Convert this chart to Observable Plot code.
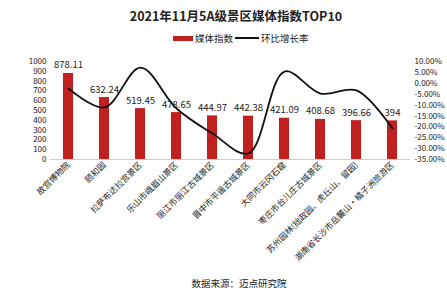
<!DOCTYPE html>
<html><head><meta charset="utf-8">
<script src="https://cdn.jsdelivr.net/npm/d3@7"></script>
<script src="https://cdn.jsdelivr.net/npm/@observablehq/plot@0.6"></script>
<style>
body{margin:0;background:#fff;font-family:"Noto Sans CJK SC","Noto Sans",sans-serif;}
#wrap{position:relative;width:447px;height:290px;}
.abs{position:absolute;white-space:nowrap;color:#222;}
</style></head><body>
<div id="wrap">
<div class="abs" style="left:0;width:472px;top:6px;text-align:center;font-size:12.5px;font-weight:bold;">2021年11月5A级景区媒体指数TOP10</div>
<div class="abs" style="left:173px;top:31px;font-size:9.5px;display:flex;align-items:center;">
<span style="display:inline-block;width:20px;height:5px;background:#c0201f;margin-right:2px;"></span><span>媒体指数</span>
<span style="display:inline-block;width:24px;height:2px;background:#111;margin:0 2px;"></span><span>环比增长率</span>
</div>
<div class="abs" style="left:0;width:478px;top:276px;text-align:center;font-size:9.5px;">数据来源：迈点研究院</div>
<div id="chart" style="position:absolute;left:0;top:0;"></div>
</div>
<script>
const categories = ["故宫博物院","颐和园","拉萨布达拉宫景区","乐山市峨眉山景区","丽江市丽江古城景区","晋中市平遥古城景区","大同市云冈石窟","枣庄市台儿庄古城景区","苏州园林(拙政园、虎丘山、留园)","湖南省长沙市岳麓山·橘子洲旅游区"];
const mediaIndex = [878.11,632.24,519.45,478.65,444.97,442.38,421.09,408.68,396.66,394];
const growthRate = [-2.4,-11.1,7.2,-11.6,-23.1,-32.2,5.4,-4.7,-3.3,-20.8];
const leftTicks = [0,100,200,300,400,500,600,700,800,900,1000];
const rightTicks = [10,5,0,-5,-10,-15,-20,-25,-30,-35];

const rMin = -35, rMax = 10;
const toLeft = r => (r - rMin) / (rMax - rMin) * 1000;
const data = categories.map((c,i)=>({c, v: mediaIndex[i], r: toLeft(growthRate[i])}));

const chart = Plot.plot({
  width: 447, height: 290,
  marginLeft: 50, marginRight: 37, marginTop: 61, marginBottom: 131,
  style: {fontFamily: '"Noto Sans CJK SC","Noto Sans",sans-serif', fontSize: "8px", color: "#222", background: "transparent"},
  x: {domain: categories, paddingInner: 0.72, paddingOuter: 0.36, label: null},
  y: {domain: [0,1000], label: null},
  marks: [
    Plot.axisY({ticks: leftTicks, tickSize: 0, tickPadding: 4, label: null, fontSize: 8, tickFormat: d => String(d)}),
    Plot.axisY({anchor: "right", ticks: rightTicks.map(toLeft), tickSize: 0, tickPadding: 4, label: null, textAnchor: "start",
      tickFormat: v => (Math.round(v/1000*45 + rMin)).toFixed(2) + "%", fontSize: 8}),
    Plot.axisX({tickRotate: -45, tickSize: 0, tickPadding: 4, label: null, fontSize: 8.5}),
    Plot.barY(data, {x: "c", y: "v", fill: "#c0201f"}),
    Plot.ruleY([0], {stroke: "#d0d0d0", strokeWidth: 1}),
    Plot.text(data, {x: "c", y: "v", text: d => String(d.v), dy: -8, fill: "#222", fontSize: 9.5}),
    Plot.line(data, {x: "c", y: "r", stroke: "#111", strokeWidth: 1.8, curve: "catmull-rom"})
  ]
});
document.getElementById("chart").appendChild(chart);
</script>
</body></html>
